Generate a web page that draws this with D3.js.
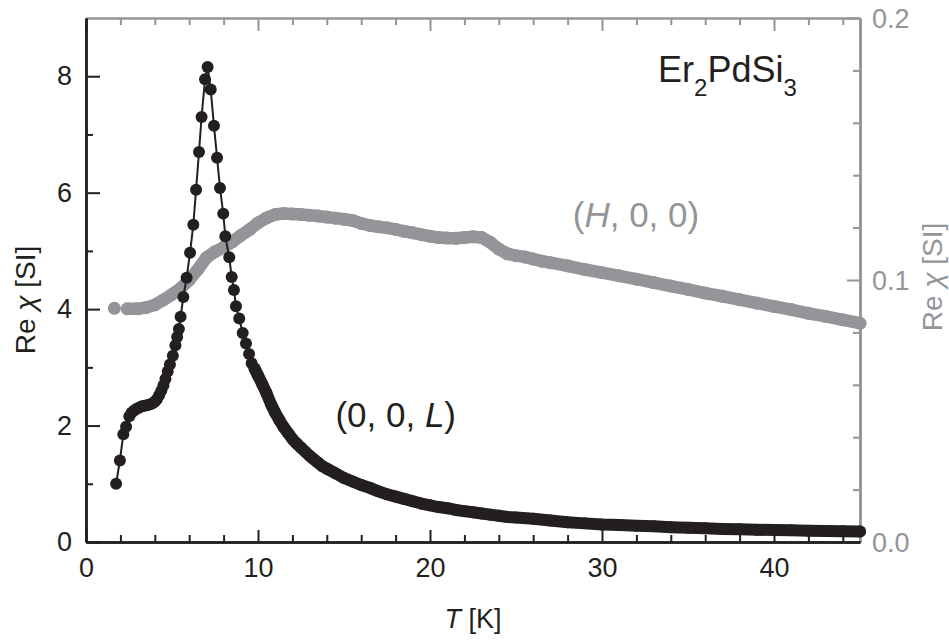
<!DOCTYPE html>
<html>
<head>
<meta charset="utf-8">
<script src="https://cdn.jsdelivr.net/npm/d3@7"></script>
<style>
  body { margin: 0; background: #fff; }
  svg text { font-family: "Liberation Sans", Arial, sans-serif; }
</style>
</head>
<body>
<svg id="chart" width="949" height="642"></svg>
<script>
// (0, 0, L) data, left axis: [T in K, Re chi in SI]
const chi00L = [
  [1.75, 1.00], [1.97, 1.40], [2.17, 1.85], [2.33, 1.98], [2.52, 2.16],
  [2.65, 2.22], [2.8, 2.26], [2.95, 2.29], [3.1, 2.31], [3.25, 2.33],
  [3.4, 2.34], [3.55, 2.35], [3.7, 2.36], [3.85, 2.38], [4.0, 2.41],
  [4.12, 2.45], [4.25, 2.52], [4.38, 2.60], [4.5, 2.69], [4.62, 2.80],
  [4.75, 2.93], [4.88, 3.05], [5.05, 3.20], [5.2, 3.38], [5.3, 3.52],
  [5.4, 3.66], [5.5, 3.87], [5.66, 4.21], [5.85, 4.54], [6.05, 4.97],
  [6.24, 5.45], [6.4, 6.05], [6.57, 6.70], [6.72, 7.30], [6.92, 7.95],
  [7.07, 8.16], [7.25, 7.77], [7.44, 7.15], [7.62, 6.60], [7.79, 6.08],
  [7.98, 5.64], [8.1, 5.25], [8.33, 4.89], [8.47, 4.55], [8.6, 4.33],
  [8.72, 4.05], [8.91, 3.84], [9.11, 3.59], [9.3, 3.41], [9.48, 3.23],
  [9.63, 3.07], [9.8, 2.98], [10.0, 2.86], [10.25, 2.71], [10.5, 2.55],
  [10.75, 2.37], [11.0, 2.22], [11.25, 2.09], [11.5, 1.97], [11.75, 1.87],
  [12.0, 1.77], [12.25, 1.69], [12.5, 1.62], [12.75, 1.55], [13.0, 1.48],
  [13.25, 1.42], [13.5, 1.36], [13.75, 1.30], [14.0, 1.26], [14.5, 1.18],
  [15.0, 1.10], [15.5, 1.04], [16.0, 0.98], [16.5, 0.93], [17.0, 0.87],
  [17.5, 0.82], [18.0, 0.78], [18.5, 0.74], [19.0, 0.70], [19.5, 0.66],
  [20.0, 0.63], [20.5, 0.60], [21.0, 0.58], [21.5, 0.55], [22.0, 0.53],
  [22.5, 0.51], [23.0, 0.49], [23.5, 0.47], [24.0, 0.45], [24.5, 0.43],
  [25.0, 0.42], [26.0, 0.40], [27.0, 0.37], [28.0, 0.34], [29.0, 0.32],
  [30.0, 0.30], [31.0, 0.29], [32.0, 0.28], [33.0, 0.27], [34.0, 0.255],
  [35.0, 0.245], [36.0, 0.235], [37.0, 0.225], [38.0, 0.22], [39.0, 0.21],
  [40.0, 0.205], [41.0, 0.20], [42.0, 0.195], [43.0, 0.19], [44.0, 0.185],
  [45.0, 0.18]
];

// (H, 0, 0) data, right axis
const chiH00 = [
  [1.65, 0.0892], [2.4, 0.0890], [3.0, 0.0890], [3.5, 0.0895], [4.0, 0.0905],
  [4.5, 0.0924], [5.0, 0.0945], [5.5, 0.0968], [6.0, 0.1000], [6.5, 0.1040],
  [7.0, 0.1085], [7.5, 0.1108], [8.0, 0.1125], [8.5, 0.1145], [9.0, 0.1170],
  [9.5, 0.1192], [10.0, 0.1218], [10.5, 0.1237], [11.0, 0.1250], [11.5, 0.1254],
  [12.0, 0.1252], [12.5, 0.1250], [13.0, 0.1247], [13.5, 0.1244], [14.0, 0.1240],
  [14.5, 0.1236], [15.0, 0.1232], [15.5, 0.1227], [16.0, 0.1216], [16.5, 0.1208],
  [17.0, 0.1203], [17.5, 0.1199], [18.0, 0.1193], [18.5, 0.1186], [19.0, 0.1180],
  [19.5, 0.1173], [20.0, 0.1167], [20.5, 0.1162], [21.0, 0.1160], [21.5, 0.1159],
  [22.0, 0.1162], [22.5, 0.1165], [23.0, 0.1162], [23.5, 0.1144], [24.0, 0.1118],
  [24.5, 0.1100], [25.0, 0.1093], [25.5, 0.1088], [26.0, 0.1080], [26.5, 0.1072],
  [27.0, 0.1066], [28.0, 0.1054], [29.0, 0.1040], [30.0, 0.1028], [31.0, 0.1016],
  [32.0, 0.1003], [33.0, 0.0990], [34.0, 0.0977], [35.0, 0.0964], [36.0, 0.0950],
  [37.0, 0.0938], [38.0, 0.0925], [39.0, 0.0912], [40.0, 0.0899], [41.0, 0.0887],
  [42.0, 0.0873], [43.0, 0.0861], [44.0, 0.0848], [45.0, 0.0835]
];

const xMajor = [0, 10, 20, 30, 40];
const xMinor = [2, 4, 6, 8, 12, 14, 16, 18, 22, 24, 26, 28, 32, 34, 36, 38, 42, 44];
const yMajor = [0, 2, 4, 6, 8];
const yMinor = [1, 3, 5, 7];
const y2Major = [0, 0.1, 0.2];
const y2Minor = [0.02, 0.04, 0.06, 0.08, 0.12, 0.14, 0.16, 0.18];

// label text + anchor position in data units
const labels = [
  { text: "(0, 0, L)", t: 14.5, v: 1.97, axis: "left", color: "#231f20" },
  { text: "(H, 0, 0)", t: 28.3, v: 0.1202, axis: "right", color: "#939598" }
];

const black = "#231f20";
const grey = "#939598";

const margin = { top: 18, right: 89, bottom: 100, left: 86 };
const width = 949 - margin.left - margin.right;
const height = 642 - margin.top - margin.bottom;

const svg = d3.select("#chart");
const g = svg.append("g").attr("transform", `translate(${margin.left},${margin.top})`);

const x = d3.scaleLinear().domain([0, 45]).range([0, width]);
const y = d3.scaleLinear().domain([0, 9]).range([height, 0]);
const y2 = d3.scaleLinear().domain([0, 0.2]).range([height, 0]);

function styleAxis(sel, color, w) {
  sel.select(".domain").attr("stroke", color).attr("stroke-width", w);
  sel.selectAll(".tick line").attr("stroke", color).attr("stroke-width", 2);
  sel.selectAll(".tick text").attr("fill", color).attr("font-size", 27);
}

// top axis (grey, ticks only)
g.append("g").call(d3.axisTop(x).tickValues(xMajor).tickSize(-13).tickSizeOuter(0).tickFormat(""))
  .call(s => styleAxis(s, grey, 2));
g.append("g").call(d3.axisTop(x).tickValues(xMinor).tickSize(-7).tickSizeOuter(0).tickFormat(""))
  .call(s => styleAxis(s, grey, 2));

// right axis (grey)
g.append("g").attr("transform", `translate(${width},0)`)
  .call(d3.axisRight(y2).tickValues(y2Major).tickSize(-13).tickSizeOuter(0).tickPadding(12).tickFormat(d3.format(".1f")))
  .call(s => styleAxis(s, grey, 2.5))
  .call(s => s.selectAll(".tick text").attr("dy", "0.36em"));
g.append("g").attr("transform", `translate(${width},0)`)
  .call(d3.axisRight(y2).tickValues(y2Minor).tickSize(-7).tickSizeOuter(0).tickFormat(""))
  .call(s => styleAxis(s, grey, 2.5));

// bottom axis
g.append("g").attr("transform", `translate(0,${height})`)
  .call(d3.axisBottom(x).tickValues(xMajor).tickSize(-12).tickSizeOuter(0).tickPadding(16))
  .call(s => styleAxis(s, black, 2.5));
g.append("g").attr("transform", `translate(0,${height})`)
  .call(d3.axisBottom(x).tickValues(xMinor).tickSize(-7).tickSizeOuter(0).tickFormat(""))
  .call(s => styleAxis(s, black, 2.5));

// left axis
g.append("g")
  .call(d3.axisLeft(y).tickValues(yMajor).tickSize(-14).tickSizeOuter(0).tickPadding(14))
  .call(s => styleAxis(s, black, 2.5));
g.append("g")
  .call(d3.axisLeft(y).tickValues(yMinor).tickSize(-7).tickSizeOuter(0).tickFormat(""))
  .call(s => styleAxis(s, black, 2.5));

// grey series: dense points drawn as a band
const lineR = d3.line().x(d => x(d[0])).y(d => y2(d[1]));
g.append("path")
  .datum(chiH00.slice(1))
  .attr("d", lineR)
  .attr("fill", "none")
  .attr("stroke", grey)
  .attr("stroke-width", 12.5)
  .attr("stroke-linecap", "round")
  .attr("stroke-linejoin", "round");
g.selectAll(".ptH")
  .data(chiH00)
  .enter()
  .append("circle")
  .attr("cx", d => x(d[0]))
  .attr("cy", d => y2(d[1]))
  .attr("r", 6.5)
  .attr("fill", grey);

// black series
const lineL = d3.line().x(d => x(d[0])).y(d => y(d[1]));
g.append("path")
  .datum(chi00L)
  .attr("d", lineL)
  .attr("fill", "none")
  .attr("stroke", black)
  .attr("stroke-width", 2);
g.append("path")
  .datum(chi00L.filter(d => d[0] >= 9.8))
  .attr("d", lineL)
  .attr("fill", "none")
  .attr("stroke", black)
  .attr("stroke-width", 12)
  .attr("stroke-linecap", "round")
  .attr("stroke-linejoin", "round");
g.selectAll(".ptL")
  .data(chi00L)
  .enter()
  .append("circle")
  .attr("cx", d => x(d[0]))
  .attr("cy", d => y(d[1]))
  .attr("r", 6)
  .attr("fill", black);

// series labels
labels.forEach(l => {
  const ys = l.axis === "left" ? y : y2;
  const t = g.append("text")
    .attr("x", x(l.t))
    .attr("y", ys(l.v))
    .attr("font-size", 35)
    .attr("fill", l.color);
  l.text.split(/([HL])/).forEach(p => {
    t.append("tspan").text(p).attr("font-style", (p === "H" || p === "L") ? "italic" : null);
  });
});

// compound name
const comp = g.append("text")
  .attr("x", x(33.26))
  .attr("y", y(7.9))
  .attr("font-size", 36)
  .attr("fill", black);
comp.append("tspan").text("Er");
comp.append("tspan").text("2").attr("font-size", 24).attr("dy", 14);
comp.append("tspan").text("PdSi").attr("dy", -14);
comp.append("tspan").text("3").attr("font-size", 24).attr("dy", 14);

// axis titles
const xt = svg.append("text")
  .attr("x", margin.left + width / 2)
  .attr("y", 628)
  .attr("text-anchor", "middle")
  .attr("font-size", 27)
  .attr("fill", black);
xt.append("tspan").text("T").attr("font-style", "italic");
xt.append("tspan").text(" [K]");

function yTitle(cx, cy, color) {
  const t = svg.append("text")
    .attr("transform", `translate(${cx},${cy}) rotate(-90)`)
    .attr("text-anchor", "middle")
    .attr("font-size", 28)
    .attr("fill", color);
  t.append("tspan").text("Re ");
  t.append("tspan").text("χ").attr("font-style", "italic");
  t.append("tspan").text(" [SI]");
}
yTitle(35, 300, black);
yTitle(942, 277, grey);
</script>
</body>
</html>
